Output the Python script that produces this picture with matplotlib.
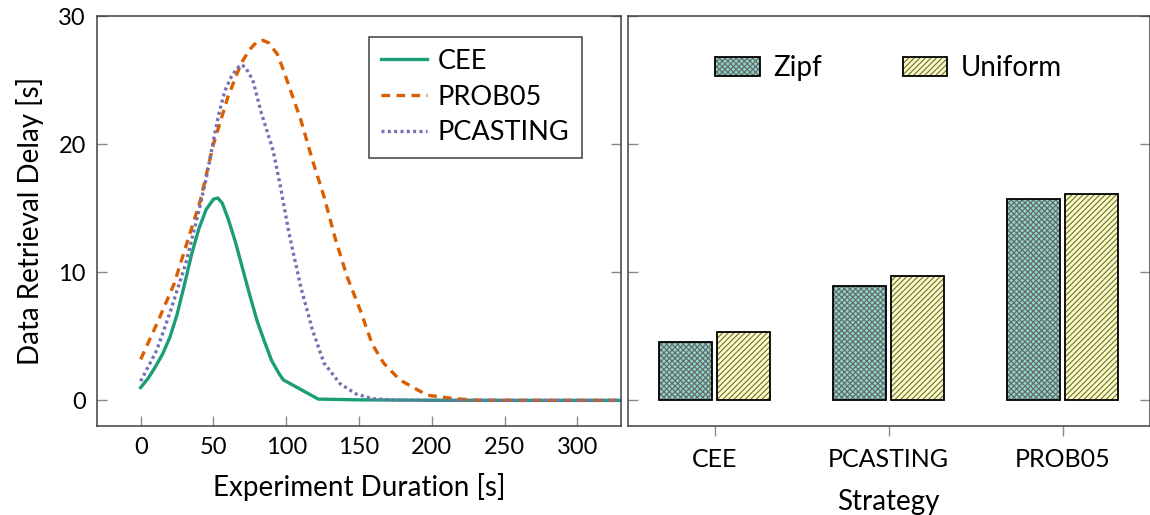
import matplotlib
matplotlib.use("Agg")
import matplotlib.pyplot as plt
import numpy as np
from matplotlib.patches import Patch
from matplotlib.legend_handler import HandlerTuple

plt.rcParams['font.family'] = ['Lato', 'DejaVu Sans']
plt.rcParams['hatch.linewidth'] = 0.8

# left panel: delay over time
cee_x = [0, 5, 10, 15, 20, 25, 30, 35, 40, 45, 50, 53, 56, 60, 65, 70, 75, 80, 85, 90, 95, 98, 122, 150, 200, 250, 330]
cee_y = [1.0, 1.7, 2.6, 3.6, 4.9, 6.7, 9.0, 11.4, 13.4, 14.9, 15.7, 15.8, 15.4, 14.2, 12.4, 10.3, 8.2, 6.2, 4.6, 3.1, 2.1, 1.6, 0.1, 0.04, 0.01, 0, 0]

prob_x = [0, 12, 23, 31, 41, 50, 60, 69, 75, 80, 84, 88, 94, 98, 102, 110, 118, 126, 134, 142, 151, 159, 167, 178, 189, 197, 216, 230, 260, 330]
prob_y = [3.2, 6.2, 9.1, 12.0, 15.6, 20.0, 23.7, 26.3, 27.4, 28.0, 28.1, 27.9, 27.0, 25.8, 24.5, 21.9, 18.75, 15.9, 12.5, 9.6, 7.0, 4.4, 2.9, 1.6, 0.9, 0.4, 0.13, 0.02, 0, 0]

pcast_x = [0, 11, 20, 31, 39, 45, 50, 54, 58, 62, 66, 69, 72, 77, 83, 91, 96, 102, 110, 118, 126, 137, 148, 159, 175, 220, 330]
pcast_y = [1.5, 3.9, 6.8, 10.7, 14.3, 17.3, 20.3, 22.5, 24.2, 25.2, 25.9, 26.2, 26.0, 25.0, 22.4, 19.5, 16.7, 13.0, 8.85, 5.5, 2.9, 1.3, 0.5, 0.13, 0.02, 0, 0]

# right panel: bars
strategies = ['CEE', 'PCASTING', 'PROB05']
zipf = [4.55, 8.9, 15.7]
uniform = [5.3, 9.7, 16.1]

fig = plt.figure(figsize=(11.5, 5.15), dpi=100)
W, H = 1150, 515
ax1 = fig.add_axes([97 / W, (H - 426) / H, 524 / W, 410 / H])
ax2 = fig.add_axes([628 / W, (H - 426) / H, 521.5 / W, 410 / H], sharey=ax1)

spine_c = '#404040'
tick_c = '#8a8a8a'
for ax in (ax1, ax2):
    for s in ax.spines.values():
        s.set_color(spine_c)
        s.set_linewidth(1.1)

ax1.plot(cee_x, cee_y, color='#1b9e77', lw=2.4, label='CEE')
ax1.plot(prob_x, prob_y, color='#d95f02', lw=2.4, linestyle=(0, (2.6, 1.9)), label='PROB05')
ax1.plot(pcast_x, pcast_y, color='#7570b3', lw=2.4, linestyle=(0, (0.9, 1.0)), label='PCASTING')

ax1.set_xlim(-30, 330)
ax1.set_ylim(-2, 30)
ax1.set_xticks([0, 50, 100, 150, 200, 250, 300])
ax1.set_yticks([0, 10, 20, 30])
ax1.tick_params(axis='both', direction='in', length=7, width=1, color=tick_c,
                labelsize=17, pad=8, right=True)
ax1.set_xlabel('Experiment Duration [s]', fontsize=20, labelpad=11)
ax1.set_ylabel('Data Retrieval Delay [s]', fontsize=20, labelpad=10)
leg = ax1.legend(loc='upper right', bbox_to_anchor=(0.925, 0.95), fontsize=19.5,
                 fancybox=False, framealpha=1, edgecolor=spine_c, handlelength=1.7,
                 borderpad=0.45, labelspacing=0.4, handletextpad=0.4, borderaxespad=0)
leg.get_frame().set_linewidth(1.1)

x = np.arange(len(strategies))
off, bw = 0.167, 0.305
zc, uc = '#8dd3c7', '#ffffb3'
zh, uh = 'xxxxxx', '//////'
ax2.bar(x - off, zipf, bw, color=zc, edgecolor='#666666', hatch=zh, linewidth=0)
ax2.bar(x - off, zipf, bw, fill=False, edgecolor='black', linewidth=1.3)
ax2.bar(x + off, uniform, bw, color=uc, edgecolor='#666666', hatch=uh, linewidth=0)
ax2.bar(x + off, uniform, bw, fill=False, edgecolor='black', linewidth=1.3)

ax2.set_xlim(-0.5, 2.5)
ax2.set_xticks(x)
ax2.set_xticklabels(strategies)
ax2.tick_params(axis='x', direction='out', length=7, width=1, color=tick_c, labelsize=18, pad=9)
ax2.tick_params(axis='y', direction='in', length=7, width=1, color=tick_c,
                left=True, right=True, labelleft=False)
ax2.set_xlabel('Strategy', fontsize=20, labelpad=13)

hz = (Patch(facecolor=zc, edgecolor='#666666', hatch=zh, linewidth=0),
      Patch(fill=False, edgecolor='black', linewidth=1.3))
hu = (Patch(facecolor=uc, edgecolor='#666666', hatch=uh, linewidth=0),
      Patch(fill=False, edgecolor='black', linewidth=1.3))
ax2.legend([hz, hu], ['Zipf', 'Uniform'], handler_map={tuple: HandlerTuple(ndivide=1)},
           loc='upper center', bbox_to_anchor=(0.5, 0.965), ncol=2, frameon=False,
           fontsize=20, handlelength=1.6, handleheight=0.7, columnspacing=2.9, handletextpad=0.5)

fig.savefig('out.png', dpi=100)
